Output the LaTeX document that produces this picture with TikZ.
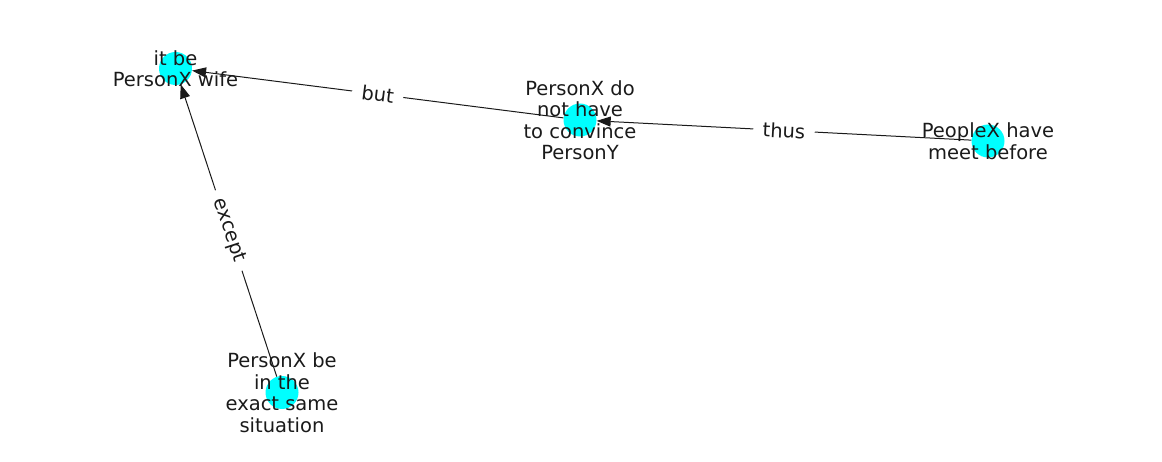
\documentclass[tikz,border=0pt]{standalone}
\usepackage{fontspec}
\setmainfont{DejaVu Sans}
\usetikzlibrary{arrows.meta}
\definecolor{nodecyan}{HTML}{00FFFF}
\definecolor{ink}{HTML}{1A1A1A}
\tikzset{
  dot/.style={circle, fill=nodecyan, draw=none, minimum size=33pt, inner sep=0pt},
  lbl/.style={align=center, inner sep=0pt, text=ink, font=\fontsize{19.5}{21.5}\selectfont},
  conn/.style={draw=ink, line width=1pt, -{Triangle[length=14pt,width=10pt]}},
  elbl/.style={fill=white, inner xsep=9.5pt, inner ysep=3pt, text=ink, font=\fontsize{19.5}{21.5}\selectfont, midway, sloped}
}
\begin{document}
\begin{tikzpicture}[x=1pt,y=-1pt]
\useasboundingbox (0,0) rectangle (1162,462);
% nodes (circles)
\node[dot] (a) at (175.5,68.5) {};
\node[dot] (b) at (580,120) {};
\node[dot] (c) at (988,141) {};
\node[dot] (d) at (282,392.5) {};
% connectors
\draw[conn] (c) -- node[elbl] {thus} (b);
\draw[conn] (b) -- node[elbl] {but} (a);
\draw[conn] (d) -- node[elbl] {except} (a);
% node labels
\node[lbl] (ta) at (a) {it be\\PersonX wife};
\node[lbl] (tb) at (b) {PersonX do\\not have\\to convince\\PersonY};
\node[lbl] (tc) at (c) {PeopleX have\\meet before};
\node[lbl] (td) at (d) {PersonX be\\in the\\exact same\\situation};
\end{tikzpicture}
\end{document}
